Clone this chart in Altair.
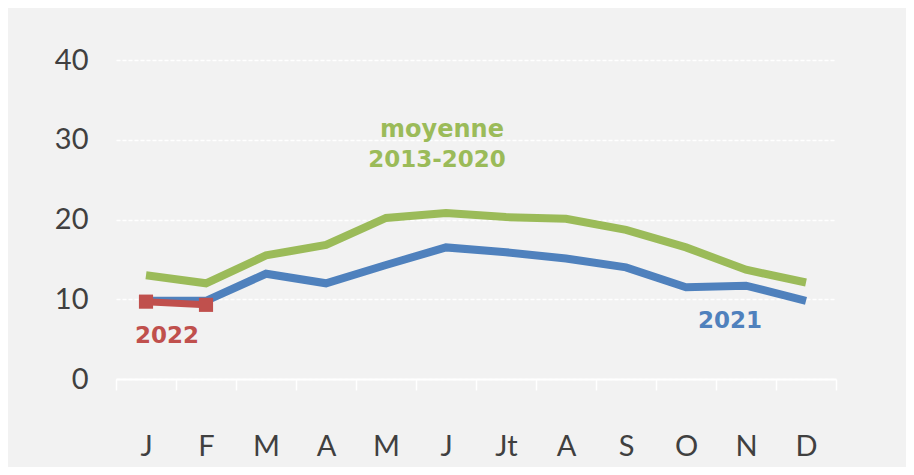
import altair as alt
import pandas as pd

months = ["J", "F", "M", "A", "M ", "J ", "Jt", "A ", "S", "O", "N", "D"]
moyenne = [13.0, 12.0, 15.5, 16.8, 20.2, 20.8, 20.3, 20.1, 18.7, 16.5, 13.7, 12.1]
y2021 = [9.8, 9.8, 13.2, 12.0, 14.3, 16.5, 15.9, 15.1, 14.0, 11.5, 11.7, 9.8]
y2022 = [9.7, 9.3]

df = pd.DataFrame(
    [{"mois": m, "v": v, "serie": "moyenne 2013-2020"} for m, v in zip(months, moyenne)]
    + [{"mois": m, "v": v, "serie": "2021"} for m, v in zip(months, y2021)]
    + [{"mois": m, "v": v, "serie": "2022"} for m, v in zip(months, y2022)]
)

green, blue, red = "#9bbb59", "#4f81bd", "#c0504d"

x = alt.X("mois:N", sort=months, title=None,
          scale=alt.Scale(paddingInner=0, paddingOuter=0),
          axis=alt.Axis(labelAngle=0, tickBand="extent", tickColor="white",
                        tickSize=11, tickWidth=1.5, domainColor="white", domainWidth=2,
                        labelFont="Lato", labelFontSize=29, labelColor="#404040",
                        labelPadding=42,
                        labelExpr="trim(datum.label)"))
y = alt.Y("v:Q", title=None,
          scale=alt.Scale(domain=[0, 40]),
          axis=alt.Axis(values=[0, 10, 20, 30, 40], grid=True, gridColor="white",
                        gridDash=[4, 2], gridWidth=1.5, domain=False, ticks=False,
                        labelFont="Lato", labelFontSize=29, labelColor="#404040",
                        labelPadding=28))

base = alt.Chart(df)

lines = base.transform_filter(alt.datum.serie != "2022").mark_line(strokeWidth=8).encode(
    x=x, y=y,
    color=alt.Color("serie:N", scale=alt.Scale(domain=["moyenne 2013-2020", "2021", "2022"],
                                                range=[green, blue, red]), legend=None),
)

red_line = base.transform_filter(alt.datum.serie == "2022").mark_line(
    strokeWidth=7, color=red).encode(x=x, y=y)
red_pts = base.transform_filter(alt.datum.serie == "2022").mark_square(
    size=200, color=red, opacity=1).encode(x=x, y=y)

ann_text = ["moyenne", "2013-2020", "2021", "2022"]
ann_mois = ["J ", "J ", "N", "J"]
ann_v = [31.2, 27.5, 7.3, 5.4]
ann_dx = [-4, -9, -16, 21]
ann_col = [green, green, blue, red]
ann_size = [24, 23, 23, 23]
ann = pd.DataFrame({"t": ann_text, "mois": ann_mois, "v": ann_v})

labels = []
for i in range(len(ann)):
    labels.append(
        alt.Chart(ann.iloc[[i]]).mark_text(
            font="DejaVu Sans", fontWeight="bold", fontSize=ann_size[i],
            color=ann_col[i], dx=ann_dx[i], baseline="middle", align="center"
        ).encode(x=alt.X("mois:N", sort=months), y=alt.Y("v:Q"), text="t:N")
    )

chart = alt.layer(lines, red_line, red_pts, *labels).properties(
    width=720, height=319,
    background="#f2f2f2",
    padding={"left": 108, "top": 52, "right": 70, "bottom": 88},
    autosize=alt.AutoSizeParams(type="none"),
).configure_view(stroke=None, fill="#f2f2f2")

chart.save("out.html", embed_options={"renderer": "svg", "actions": False})
